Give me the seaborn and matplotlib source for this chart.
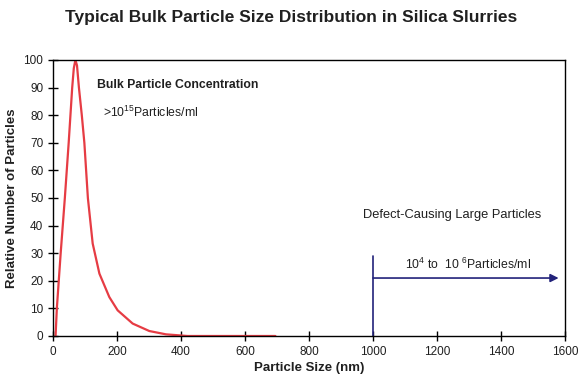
import seaborn as sns
import matplotlib.pyplot as plt
import pandas as pd

# Bulk particle distribution
size_nm = [8, 12, 24, 37, 49, 60, 65, 70, 75, 81, 90, 98, 109, 124, 145,
           176, 202, 249, 301, 353, 420, 695]
rel_count = [0, 10, 30, 50, 70, 90, 97, 100, 98, 90, 80, 70, 50, 33.5, 22.6,
             14.1, 9.3, 4.5, 1.8, 0.6, 0, 0]

# Large particle marker (vertical bar + arrow)
large_start = 1000
large_end = 1580
large_bar_top = 29
large_arrow_y = 21

x_ticks = [0, 200, 400, 600, 800, 1000, 1200, 1400, 1600]
y_ticks = [0, 10, 20, 30, 40, 50, 60, 70, 80, 90, 100]

sns.set_theme(style="ticks")
plt.rcParams['font.family'] = ['Liberation Sans', 'DejaVu Sans']
plt.rcParams['mathtext.fontset'] = 'custom'
plt.rcParams['mathtext.rm'] = 'Liberation Sans'
plt.rcParams['mathtext.it'] = 'Liberation Sans:italic'

df = pd.DataFrame({"size": size_nm, "rel": rel_count})

fig = plt.figure(figsize=(5.78, 3.87), dpi=100)
ax = fig.add_axes([0.0917, 0.1318, 0.8858, 0.7132])

sns.lineplot(data=df, x="size", y="rel", color="#e63c44", linewidth=1.6, ax=ax)

# defect-causing particles marker
ax.plot([large_start, large_start], [0, large_bar_top], color="#22227a", linewidth=1.2)
ax.annotate("", xy=(large_end, large_arrow_y), xytext=(large_start, large_arrow_y),
            arrowprops=dict(arrowstyle="-|>", color="#22227a", lw=1.2,
                            mutation_scale=12, shrinkA=0, shrinkB=0))

txt = "#202020"
ax.text(137, 91, "Bulk Particle Concentration", fontsize=8.8, fontweight="bold",
        va="center", ha="left", color=txt)
ax.text(157, 81, r">10$^{15}$Particles/ml", fontsize=8.8, va="center", ha="left", color=txt)
ax.text(1247, 44, "Defect-Causing Large Particles", fontsize=9.3, va="center",
        ha="center", color=txt)
ax.text(1297, 26, r"10$^{4}$ to  10 $^{6}$Particles/ml", fontsize=8.8, va="center",
        ha="center", color=txt)

ax.set_xlim(0, 1600)
ax.set_ylim(0, 100)
ax.set_xticks(x_ticks)
ax.set_yticks(y_ticks)
ax.tick_params(direction="inout", length=7, width=1, labelsize=8.5, colors="black",
               labelcolor=txt)
for s in ax.spines.values():
    s.set_color("black")
    s.set_linewidth(1)

ax.set_xlabel("Particle Size (nm)", fontsize=9.5, fontweight="bold", labelpad=3, color=txt)
ax.set_ylabel("Relative Number of Particles", fontsize=9.5, fontweight="bold", labelpad=4,
              color=txt)
fig.suptitle("Typical Bulk Particle Size Distribution in Silica Slurries",
             fontsize=12.5, fontweight="bold", x=0.503, y=0.975, color=txt)

fig.savefig("out.png", dpi=100)
